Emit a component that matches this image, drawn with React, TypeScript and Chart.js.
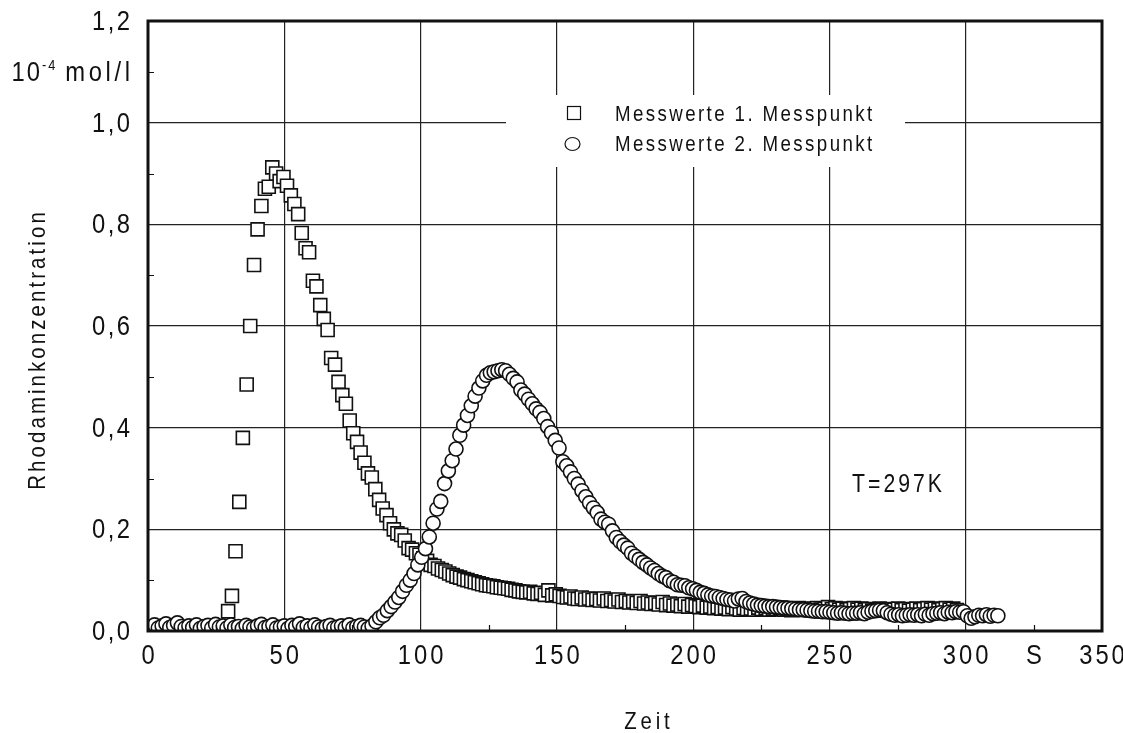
import { useEffect, useRef } from 'react';
import { Chart, registerables } from 'chart.js';

Chart.register(...registerables);

const FONT = '"Liberation Sans", Arial, sans-serif';
const INK = '#111111';
const GRID = '#222222';

const seriesLabels = ['Messwerte 1. Messpunkt', 'Messwerte 2. Messpunkt'];
const xTitle = 'Zeit';
const yTitle = 'Rhodaminkonzentration';
const xUnitLabel = 'S';
const yUnitParts = ['10', '-4', 'mol/l'];
const annotationText = 'T=297K';

const xMin = 0;
const xMax = 350;
const xStep = 25;
const xLabelEvery = 50;
const xUnitAt = 325;
const yMin = 0;
const yMax = 1.2;
const yStep = 0.1;
const yUnitAt = 1.1;

// Messwerte 1. Messpunkt: [Zeit in s, Konzentration in 1e-4 mol/l]
const messpunkt1: [number, number][] = [
  [29.4, 0.039], [30.8, 0.069], [32.1, 0.157], [33.5, 0.254], [34.8, 0.380], [36.2, 0.485], [37.5, 0.600], [38.9, 0.720], [40.2, 0.790], [41.6, 0.836],
  [42.9, 0.870], [44.3, 0.874], [45.6, 0.912], [47.0, 0.900], [48.3, 0.885], [49.7, 0.893], [51.0, 0.876], [52.4, 0.857], [53.7, 0.840], [55.1, 0.820],
  [56.4, 0.783], [57.8, 0.753], [59.1, 0.745], [60.5, 0.689], [61.8, 0.678], [63.2, 0.641], [64.5, 0.614], [65.9, 0.592], [67.2, 0.537], [68.6, 0.524],
  [69.9, 0.490], [71.3, 0.464], [72.6, 0.447], [74.0, 0.414], [75.3, 0.389], [76.7, 0.372], [78.0, 0.351], [79.4, 0.331], [80.7, 0.310], [82.1, 0.302],
  [83.4, 0.279], [84.8, 0.258], [86.1, 0.241], [87.5, 0.228], [88.8, 0.212], [90.2, 0.200], [91.5, 0.192], [92.9, 0.189], [94.2, 0.178], [95.6, 0.163],
  [96.9, 0.160], [98.3, 0.153], [99.6, 0.150], [101.0, 0.143], [102.4, 0.138], [103.7, 0.130], [105.1, 0.128], [106.4, 0.123], [107.8, 0.120], [109.1, 0.117],
  [110.5, 0.113], [111.8, 0.110], [113.2, 0.107], [114.5, 0.105], [115.9, 0.102], [117.2, 0.100], [118.6, 0.098], [119.9, 0.096], [121.3, 0.094], [122.6, 0.092],
  [124.0, 0.090], [125.3, 0.089], [126.7, 0.088], [128.0, 0.086], [129.4, 0.085], [130.7, 0.084], [132.1, 0.083], [133.4, 0.081], [134.8, 0.080], [136.1, 0.078],
  [137.5, 0.077], [138.8, 0.076], [140.2, 0.077], [141.5, 0.074], [142.9, 0.073], [144.2, 0.075], [145.6, 0.071], [146.9, 0.080], [148.3, 0.070], [149.6, 0.072],
  [151.0, 0.069], [152.3, 0.067], [153.7, 0.066], [155.0, 0.068], [156.4, 0.064], [157.7, 0.063], [159.1, 0.066], [160.4, 0.062], [161.8, 0.064], [163.1, 0.061],
  [164.5, 0.063], [165.8, 0.060], [167.2, 0.064], [168.5, 0.059], [169.9, 0.061], [171.2, 0.058], [172.6, 0.062], [173.9, 0.057], [175.3, 0.059], [176.6, 0.056],
  [178.0, 0.058], [179.3, 0.055], [180.7, 0.059], [182.0, 0.054], [183.4, 0.056], [184.7, 0.053], [186.1, 0.055], [187.4, 0.052], [188.8, 0.057], [190.1, 0.051],
  [191.5, 0.054], [192.8, 0.050], [194.2, 0.052], [195.5, 0.049], [196.9, 0.053], [198.2, 0.048], [199.6, 0.051], [200.9, 0.049], [202.3, 0.047], [203.6, 0.050],
  [205.0, 0.046], [206.3, 0.048], [207.7, 0.045], [209.0, 0.047], [210.4, 0.044], [211.7, 0.046], [213.1, 0.043], [214.4, 0.047], [215.8, 0.044], [217.1, 0.042],
  [218.5, 0.045], [219.8, 0.043], [221.2, 0.044], [222.5, 0.042], [223.9, 0.046], [225.2, 0.043], [226.6, 0.045], [227.9, 0.042], [229.3, 0.044], [230.6, 0.043],
  [232.0, 0.046], [233.3, 0.042], [234.7, 0.044], [236.0, 0.041], [237.4, 0.043], [238.7, 0.045], [240.1, 0.042], [241.4, 0.044], [242.8, 0.041], [244.1, 0.043],
  [245.5, 0.045], [246.8, 0.042], [248.2, 0.044], [249.5, 0.047], [250.9, 0.043], [252.2, 0.045], [253.6, 0.042], [254.9, 0.044], [256.3, 0.041], [257.6, 0.043],
  [259.0, 0.045], [260.3, 0.042], [261.7, 0.044], [263.0, 0.041], [264.4, 0.043], [265.7, 0.040], [267.1, 0.042], [268.4, 0.044], [269.8, 0.041], [271.1, 0.043],
  [272.5, 0.040], [273.8, 0.042], [275.2, 0.044], [276.5, 0.041], [277.9, 0.043], [279.2, 0.040], [280.6, 0.042], [281.9, 0.044], [283.3, 0.041], [284.6, 0.043],
  [286.0, 0.045], [287.3, 0.042], [288.7, 0.044], [290.0, 0.041], [291.4, 0.043], [292.7, 0.045], [294.1, 0.042], [295.4, 0.044], [296.8, 0.041],
];

// Messwerte 2. Messpunkt
const messpunkt2: [number, number][] = [
  [1.0, 0.008], [2.4, 0.012], [3.8, 0.006], [5.2, 0.010], [6.6, 0.014], [8.0, 0.007], [9.4, 0.011], [10.8, 0.016], [12.2, 0.009], [13.6, 0.006],
  [15.0, 0.010], [16.4, 0.007], [17.8, 0.012], [19.2, 0.005], [20.6, 0.009], [22.0, 0.011], [23.4, 0.006], [24.8, 0.013], [26.2, 0.008], [27.6, 0.010],
  [29.0, 0.006], [30.4, 0.012], [31.8, 0.007], [33.2, 0.009], [34.6, 0.005], [36.0, 0.011], [37.4, 0.008], [38.8, 0.006], [40.2, 0.010], [41.6, 0.013],
  [43.0, 0.007], [44.4, 0.009], [45.8, 0.012], [47.2, 0.006], [48.6, 0.008], [50.0, 0.010], [51.4, 0.005], [52.8, 0.011], [54.2, 0.009], [55.6, 0.014],
  [57.0, 0.007], [58.4, 0.010], [59.8, 0.006], [61.2, 0.012], [62.6, 0.008], [64.0, 0.005], [65.4, 0.009], [66.8, 0.011], [68.2, 0.006], [69.6, 0.008],
  [71.0, 0.010], [72.4, 0.007], [73.8, 0.012], [75.2, 0.006], [76.6, 0.009], [78.0, 0.011], [79.4, 0.008], [80.8, 0.005], [82.2, 0.010], [83.6, 0.018],
  [85.0, 0.026], [86.4, 0.031], [87.8, 0.040], [89.2, 0.048], [90.6, 0.057], [92.0, 0.066], [93.4, 0.078], [94.8, 0.090], [96.2, 0.100], [97.6, 0.113],
  [99.0, 0.130], [100.4, 0.145], [101.8, 0.162], [103.2, 0.185], [104.6, 0.212], [106.0, 0.240], [107.4, 0.255], [108.8, 0.290], [110.2, 0.315], [111.6, 0.335],
  [113.0, 0.358], [114.4, 0.385], [115.8, 0.405], [117.2, 0.424], [118.6, 0.443], [120.0, 0.462], [121.4, 0.478], [122.8, 0.492], [124.2, 0.503], [125.6, 0.508],
  [127.0, 0.510], [128.4, 0.512], [129.8, 0.514], [131.2, 0.512], [132.6, 0.505], [134.0, 0.497], [135.4, 0.490], [136.8, 0.474], [138.2, 0.466], [139.6, 0.456],
  [141.0, 0.447], [142.4, 0.437], [143.8, 0.430], [145.2, 0.418], [146.6, 0.402], [148.0, 0.390], [149.4, 0.375], [150.8, 0.360], [152.2, 0.333], [153.6, 0.325],
  [155.0, 0.313], [156.4, 0.300], [157.8, 0.289], [159.2, 0.276], [160.6, 0.264], [162.0, 0.252], [163.4, 0.242], [164.8, 0.233], [166.2, 0.220], [167.6, 0.214],
  [169.0, 0.210], [170.4, 0.197], [171.8, 0.184], [173.2, 0.176], [174.6, 0.169], [176.0, 0.163], [177.4, 0.153], [178.8, 0.147], [180.2, 0.141], [181.6, 0.135],
  [183.0, 0.130], [184.4, 0.124], [185.8, 0.119], [187.2, 0.113], [188.6, 0.108], [190.0, 0.105], [191.4, 0.099], [192.8, 0.096], [194.2, 0.091], [195.6, 0.090],
  [197.0, 0.089], [198.4, 0.085], [199.8, 0.083], [201.2, 0.080], [202.6, 0.076], [204.0, 0.074], [205.4, 0.071], [206.8, 0.069], [208.2, 0.068], [209.6, 0.066],
  [211.0, 0.064], [212.4, 0.062], [213.8, 0.061], [215.2, 0.059], [216.6, 0.063], [218.0, 0.064], [219.4, 0.058], [220.8, 0.055], [222.2, 0.053], [223.6, 0.051],
  [225.0, 0.050], [226.4, 0.049], [227.8, 0.048], [229.2, 0.048], [230.6, 0.047], [232.0, 0.046], [233.4, 0.045], [234.8, 0.045], [236.2, 0.044], [237.6, 0.043],
  [239.0, 0.042], [240.4, 0.042], [241.8, 0.041], [243.2, 0.040], [244.6, 0.039], [246.0, 0.039], [247.4, 0.038], [248.8, 0.038], [250.2, 0.037], [251.6, 0.036],
  [253.0, 0.035], [254.4, 0.036], [255.8, 0.035], [257.2, 0.034], [258.6, 0.035], [260.0, 0.035], [261.4, 0.036], [262.8, 0.034], [264.2, 0.037], [265.6, 0.039],
  [267.0, 0.040], [268.4, 0.041], [269.8, 0.040], [271.2, 0.036], [272.6, 0.033], [274.0, 0.031], [275.4, 0.032], [276.8, 0.030], [278.2, 0.031], [279.6, 0.032],
  [281.0, 0.031], [282.4, 0.032], [283.8, 0.030], [285.2, 0.033], [286.6, 0.031], [288.0, 0.034], [289.4, 0.035], [290.8, 0.036], [292.2, 0.034], [293.6, 0.037],
  [295.0, 0.036], [296.4, 0.038], [297.8, 0.037], [299.2, 0.038], [300.6, 0.030], [302.0, 0.025], [303.4, 0.028], [304.8, 0.031], [306.2, 0.030], [307.6, 0.032],
  [309.0, 0.029], [310.4, 0.031], [311.8, 0.030],
];

const tenth = (v: number) => Math.round(v * 10);
const SX = 0.85;

// draws condensed, letter-spaced text; returns the drawn width
function textWidth(ctx: CanvasRenderingContext2D, s: string, size: number, sp: number) {
  ctx.font = `${size}px ${FONT}`;
  let w = 0;
  for (const ch of s) w += ctx.measureText(ch).width * SX;
  return w + sp * Math.max(0, s.length - 1);
}
function drawText(ctx: CanvasRenderingContext2D, s: string, x: number, y: number, size: number, sp: number, align: 'left' | 'center' | 'right') {
  const w = textWidth(ctx, s, size, sp);
  let cx = align === 'left' ? x : align === 'center' ? x - w / 2 : x - w;
  ctx.font = `${size}px ${FONT}`;
  ctx.textAlign = 'left';
  ctx.textBaseline = 'alphabetic';
  for (const ch of s) {
    ctx.save();
    ctx.translate(cx, y);
    ctx.scale(SX, 1);
    ctx.fillText(ch, 0, 0);
    ctx.restore();
    cx += ctx.measureText(ch).width * SX + sp;
  }
  return w;
}

const decorPlugin = {
  id: 'decor',
  beforeDraw(chart: any) {
    const { ctx, width, height } = chart;
    ctx.save();
    ctx.fillStyle = '#ffffff';
    ctx.fillRect(0, 0, width, height);
    ctx.restore();
  },
  afterDatasetsDraw(chart: any) {
    const { ctx, chartArea: a, scales } = chart;
    const xs = scales.x;
    const ys = scales.y;
    ctx.save();
    // inward minor ticks
    ctx.strokeStyle = INK;
    ctx.lineWidth = 1.2;
    ctx.beginPath();
    ys.ticks.forEach((t: any) => {
      if (tenth(t.value) % 2 === 1) {
        const py = Math.round(ys.getPixelForValue(t.value)) + 0.5;
        ctx.moveTo(a.left, py);
        ctx.lineTo(a.left + 6, py);
      }
    });
    xs.ticks.forEach((t: any) => {
      if (t.value % xLabelEvery !== 0) {
        const px = Math.round(xs.getPixelForValue(t.value)) + 0.5;
        ctx.moveTo(px, a.bottom);
        ctx.lineTo(px, a.bottom - 6);
      }
    });
    ctx.stroke();
    // frame
    ctx.lineWidth = 3;
    ctx.strokeRect(a.left, a.top, a.right - a.left, a.bottom - a.top);

    ctx.fillStyle = INK;
    // tick labels
    xs.ticks.forEach((t: any) => {
      const v = t.value;
      const lbl = v % xLabelEvery === 0 ? String(v) : v === xUnitAt ? xUnitLabel : '';
      if (lbl) drawText(ctx, lbl, xs.getPixelForValue(v), a.bottom + 33, 28, 3, 'center');
    });
    ys.ticks.forEach((t: any) => {
      const v = t.value;
      if (tenth(v) % 2 === 0) {
        drawText(ctx, Number(v).toFixed(1).replace('.', ','), a.left - 18, ys.getPixelForValue(v) + 9, 28, 2.5, 'right');
      }
    });

    // y unit label at 1.1
    const uy = ys.getPixelForValue(yUnitAt) + 9;
    const wMol = textWidth(ctx, yUnitParts[2], 28, 3.6);
    const wSup = textWidth(ctx, yUnitParts[1], 15, 2);
    const wTen = textWidth(ctx, yUnitParts[0], 28, 2);
    let ux = a.left - 18 - wMol - 10 - wSup - 2 - wTen;
    drawText(ctx, yUnitParts[0], ux, uy, 28, 2, 'left');
    ux += wTen + 2;
    drawText(ctx, yUnitParts[1], ux, uy - 11, 15, 2, 'left');
    ux += wSup + 10;
    drawText(ctx, yUnitParts[2], ux, uy, 28, 3.6, 'left');

    // legend box
    const lx = 506, ly = 95, lw = 399, lh = 72;
    ctx.fillStyle = '#ffffff';
    ctx.fillRect(lx, ly, lw, lh);
    const rows = [113, 143];
    ctx.lineWidth = 1.2;
    ctx.strokeStyle = INK;
    ctx.strokeRect(567.5, rows[0] - 6.5, 13, 13);
    ctx.beginPath();
    ctx.ellipse(572.5, rows[1] + 1, 7.5, 6.5, 0, 0, Math.PI * 2);
    ctx.stroke();
    ctx.fillStyle = INK;
    seriesLabels.forEach((s, i) => drawText(ctx, s, 615, rows[i] + 8, 22, 2.4, 'left'));

    // annotation
    drawText(ctx, annotationText, 897, 492, 25, 3, 'center');

    // axis titles
    drawText(ctx, xTitle, 647, 729, 24, 3.8, 'center');
    ctx.save();
    ctx.translate(45, 351);
    ctx.rotate(-Math.PI / 2);
    drawText(ctx, yTitle, 0, 0, 24, 3.1, 'center');
    ctx.restore();
    ctx.restore();
  },
};

export default function App() {
  const ref = useRef<HTMLCanvasElement | null>(null);
  useEffect(() => {
    if (!ref.current) return;
    const chart = new Chart(ref.current, {
      type: 'scatter',
      data: {
        datasets: [
          {
            label: seriesLabels[0],
            data: messpunkt1.map(([x, y]) => ({ x, y })),
            pointStyle: 'rect',
            pointRadius: 9.2,
            backgroundColor: '#ffffff',
            borderColor: INK,
            borderWidth: 1.6,
            order: 1,
          },
          {
            label: seriesLabels[1],
            data: messpunkt2.map(([x, y]) => ({ x, y })),
            pointStyle: 'circle',
            pointRadius: 7,
            backgroundColor: '#ffffff',
            borderColor: INK,
            borderWidth: 1.6,
            order: 0,
          },
        ],
      },
      options: {
        animation: false,
        responsive: true,
        maintainAspectRatio: false,
        layout: { padding: { left: 0, top: 21, right: 21, bottom: 0 } },
        plugins: { legend: { display: false }, tooltip: { enabled: false } },
        scales: {
          x: {
            type: 'linear',
            min: xMin,
            max: xMax,
            border: { display: false },
            grid: {
              drawTicks: false,
              lineWidth: 1.2,
              color: (c: any) => (c.tick && c.tick.value % xLabelEvery === 0 ? GRID : 'rgba(0,0,0,0)'),
            },
            ticks: { stepSize: xStep, autoSkip: false, display: false },
            afterFit: (s: any) => {
              s.height = 102;
              s.paddingLeft = 0; s.paddingRight = 0; s.paddingTop = 0; s.paddingBottom = 0;
            },
          },
          y: {
            type: 'linear',
            min: yMin,
            max: yMax,
            border: { display: false },
            grid: {
              drawTicks: false,
              lineWidth: 1.2,
              color: (c: any) => (c.tick && tenth(c.tick.value) % 2 === 0 ? GRID : 'rgba(0,0,0,0)'),
            },
            ticks: { stepSize: yStep, autoSkip: false, display: false },
            afterFit: (s: any) => {
              s.width = 148;
              s.paddingLeft = 0; s.paddingRight = 0; s.paddingTop = 0; s.paddingBottom = 0;
            },
          },
        },
      },
      plugins: [decorPlugin],
    });
    return () => chart.destroy();
  }, []);
  return (
    <div style={{ position: 'fixed', left: 0, top: 0, width: 1123, height: 733, background: '#fff' }}>
      <canvas ref={ref} />
    </div>
  );
}
